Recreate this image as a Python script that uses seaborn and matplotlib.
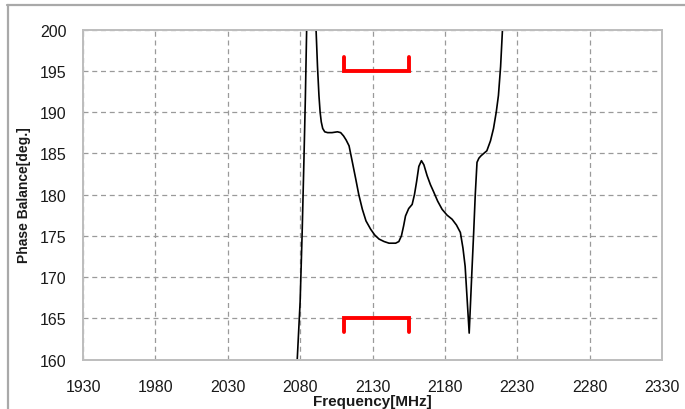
import matplotlib
matplotlib.use("Agg")
import matplotlib.pyplot as plt
from matplotlib.lines import Line2D
import seaborn as sns
import pandas as pd

# ---- data ----
branch1_freq = [2077.5, 2078.0, 2080.0, 2081.4, 2082.6, 2083.6, 2084.5, 2085.0]
branch1_phase = [158.0, 160.0, 167.0, 175.4, 184.0, 191.6, 200.0, 203.0]

branch2_freq = [2090.5, 2091.0, 2092.0, 2093.0, 2093.8, 2094.6, 2095.6, 2097.0,
                2099.0, 2102.0, 2105.8, 2108.0, 2110.0, 2111.8, 2113.8, 2116.0,
                2118.4, 2120.5, 2123.0, 2125.5, 2128.7, 2131.5, 2134.5, 2138.0,
                2141.4, 2146.0, 2148.2, 2150.0, 2151.5, 2152.8, 2155.0, 2157.4,
                2159.0, 2160.5, 2162.0, 2163.8, 2165.5, 2167.7, 2170.0, 2172.3,
                2175.0, 2178.1, 2181.5, 2185.0, 2188.0, 2190.7, 2192.5, 2194.0,
                2196.8, 2198.5, 2199.9, 2201.0, 2202.2, 2203.5, 2205.0, 2207.0,
                2209.0, 2211.5, 2213.6, 2215.5, 2217.0, 2218.5, 2219.8, 2220.3]
branch2_phase = [203.0, 200.0, 195.5, 192.0, 190.0, 188.8, 188.0, 187.6,
                 187.5, 187.5, 187.6, 187.5, 187.1, 186.6, 185.9, 184.0,
                 181.9, 180.0, 178.2, 176.8, 175.8, 175.1, 174.6, 174.3,
                 174.1, 174.1, 174.3, 175.0, 176.2, 177.4, 178.3, 178.8,
                 180.0, 181.6, 183.4, 184.1, 183.6, 182.3, 181.2, 180.3,
                 179.2, 178.2, 177.5, 177.0, 176.3, 175.4, 173.5, 171.3,
                 163.2, 170.0, 175.4, 180.0, 183.9, 184.4, 184.7, 185.0,
                 185.3, 186.5, 188.0, 190.0, 192.0, 195.5, 200.0, 203.0]

# spec brackets (upper and lower limits over the band)
spec_freq = [2110, 2110, 2155, 2155]
spec_upper = [196.7, 195, 195, 196.7]
spec_lower = [163.3, 165, 165, 163.3]

x_ticks = [1930, 1980, 2030, 2080, 2130, 2180, 2230, 2280, 2330]
y_ticks = [160, 165, 170, 175, 180, 185, 190, 195, 200]

sns.set_theme(style="white")
plt.rcParams["font.family"] = ["Liberation Sans", "DejaVu Sans"]

fig = plt.figure(figsize=(6.85, 4.10), dpi=100)
ax = fig.add_axes([0.1212, 0.1207, 0.8452, 0.8049])

df1 = pd.DataFrame({"freq": branch1_freq, "phase": branch1_phase})
df2 = pd.DataFrame({"freq": branch2_freq, "phase": branch2_phase})
sns.lineplot(data=df1, x="freq", y="phase", sort=False, color="black", lw=1.2, ax=ax)
sns.lineplot(data=df2, x="freq", y="phase", sort=False, color="black", lw=1.2, ax=ax)

ax.plot(spec_freq, spec_upper, color="#ff0000", lw=2.8, solid_joinstyle="miter", zorder=5)
ax.plot(spec_freq, spec_lower, color="#ff0000", lw=2.8, solid_joinstyle="miter", zorder=5)

ax.set_xlim(1930, 2330)
ax.set_ylim(160, 200)
ax.set_xticks(x_ticks)
ax.set_yticks(y_ticks)
ax.set_xticklabels([str(t) for t in x_ticks])
ax.set_yticklabels([str(t) for t in y_ticks])
ax.tick_params(axis="both", length=0, labelsize=11.5, labelcolor="#1a1a1a")
ax.tick_params(axis="x", pad=14)
ax.tick_params(axis="y", pad=12)

ax.grid(True, color="#9a9a9a", linestyle=(0, (4, 3)), linewidth=0.9)
ax.set_axisbelow(True)
for s in ax.spines.values():
    s.set_color("#bdbdbd")
    s.set_linewidth(1.4)
    s.set_visible(True)

ax.set_xlabel("Frequency[MHz]", fontsize=11, fontweight="bold", color="#1a1a1a")
ax.xaxis.label.set_va("center")
ax.xaxis.set_label_coords(0.5, -0.127)
ax.set_ylabel("Phase Balance[deg.]", fontsize=10, fontweight="bold", color="#1a1a1a")
ax.yaxis.label.set_va("center")
ax.yaxis.set_label_coords(-0.102, 0.5)

# outer chart border (top and left visible)
fig.add_artist(Line2D([7 / 685, 1.0], [1 - 5.5 / 410, 1 - 5.5 / 410],
                      transform=fig.transFigure, color="#a9a9a9", lw=1.6))
fig.add_artist(Line2D([7.5 / 685, 7.5 / 685], [0.0, 1 - 5.5 / 410],
                      transform=fig.transFigure, color="#a9a9a9", lw=1.6))

fig.savefig("out.png", dpi=100)
